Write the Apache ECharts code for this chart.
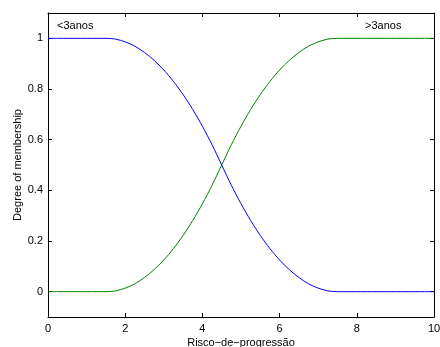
<!DOCTYPE html>
<html>
<head>
<meta charset="utf-8">
<script src="https://cdn.jsdelivr.net/npm/echarts@6/dist/echarts.min.js"></script>
<style>html,body{margin:0;padding:0;background:#fff}#c{width:440px;height:347px}</style>
</head>
<body>
<div id="c"></div>
<script>
// x samples of the universe of discourse
var xValues = [0,0.25,0.5,0.75,1,1.25,1.5,1.75,2,2.25,2.5,2.75,3,3.25,3.5,3.75,4,4.25,4.5,4.75,5,5.25,5.5,5.75,6,6.25,6.5,6.75,7,7.25,7.5,7.75,8,8.25,8.5,8.75,9,9.25,9.5,9.75,10];
// "<3anos" membership (blue)
var menos3 = [1,1,1,1,1,1,1,0.997,0.986,0.969,0.944,0.913,0.875,0.830,0.778,0.719,0.653,0.580,0.5,0.420,0.347,0.281,0.222,0.170,0.125,0.087,0.056,0.031,0.014,0.003,0,0,0,0,0,0,0,0,0,0,0];
// ">3anos" membership (green)
var mais3 = [0,0,0,0,0,0,0,0.003,0.014,0.031,0.056,0.087,0.125,0.170,0.222,0.281,0.347,0.420,0.5,0.580,0.653,0.719,0.778,0.830,0.875,0.913,0.944,0.969,0.986,0.997,1,1,1,1,1,1,1,1,1,1,1];
var xTicks = [0,2,4,6,8,10];
var yTicks = [0,0.2,0.4,0.6,0.8,1];
var labels = ['<3anos','>3anos'];
var xTitle = 'Risco\u2212de\u2212progress\u00e3o';
var yTitle = 'Degree of membership';

function pairs(ys){ return xValues.map(function(x,i){return [x, ys[i]];}); }

var font = 'Liberation Sans, Arial, Helvetica, sans-serif';
var chart = echarts.init(document.getElementById('c'), null, {renderer:'canvas'});
var axisCommon = {
  axisLine:{show:true, onZero:false, lineStyle:{color:'#000', width:1}},
  axisTick:{show:true, inside:true, length:4, lineStyle:{color:'#000'}},
  splitLine:{show:false}
};
chart.setOption({
  animation:false,
  backgroundColor:'#fff',
  grid:{left:48, right:6, top:13, bottom:30, show:false, containLabel:false, outerBoundsMode:'none'},
  xAxis:[
    Object.assign({type:'value', min:0, max:10, interval:2, position:'bottom',
      name:xTitle, nameLocation:'middle', nameGap:20, nameMoveOverlap:false,
      nameTextStyle:{fontFamily:font, fontSize:11, color:'#000'},
      axisLabel:{fontFamily:font, fontSize:11, color:'#000', margin:6}}, axisCommon),
    Object.assign({type:'value', min:0, max:10, interval:2, position:'top',
      axisLabel:{show:false}}, axisCommon)
  ],
  yAxis:[
    Object.assign({}, axisCommon, {type:'value', min:-0.1, max:1.1, position:'left',
      name:yTitle, nameLocation:'middle', nameGap:25, nameMoveOverlap:false,
      nameTextStyle:{fontFamily:font, fontSize:11, color:'#000'},
      axisTick:{show:true, inside:true, length:4, customValues:yTicks, lineStyle:{color:'#000'}},
      axisLabel:{fontFamily:font, fontSize:11, color:'#000', margin:5, customValues:yTicks}}),
    Object.assign({}, axisCommon, {type:'value', min:-0.1, max:1.1, position:'right',
      axisTick:{show:true, inside:true, length:4, customValues:yTicks, lineStyle:{color:'#000'}},
      axisLabel:{show:false}})
  ],
  series:[
    {type:'line', data:pairs(menos3), showSymbol:false, smooth:0.3,
     lineStyle:{color:'#0000ff', width:1}, itemStyle:{color:'#0000ff'}},
    {type:'line', data:pairs(mais3), showSymbol:false, smooth:0.3,
     lineStyle:{color:'#008000', width:1}, itemStyle:{color:'#008000'}}
  ],
  graphic:[
    {type:'text', left:57, top:20, style:{text:labels[0], fontFamily:font, fontSize:11, fill:'#000'}},
    {type:'text', left:365, top:20, style:{text:labels[1], fontFamily:font, fontSize:11, fill:'#000'}}
  ]
});
</script>
</body>
</html>
